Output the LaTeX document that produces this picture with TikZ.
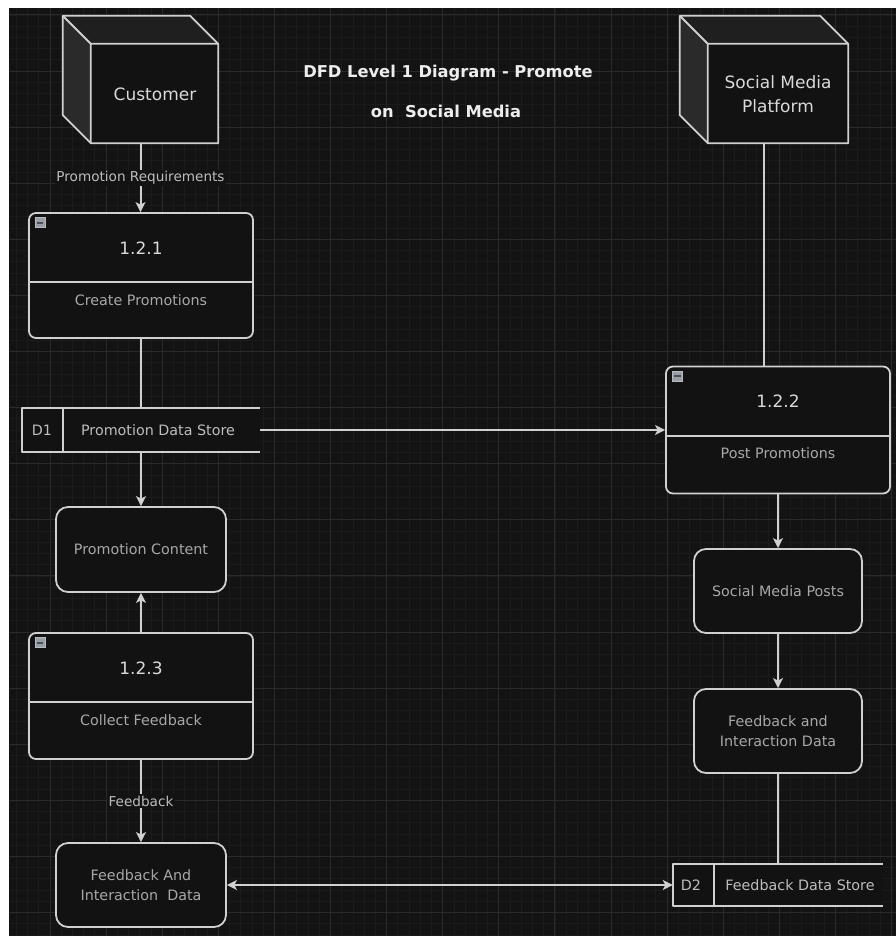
\documentclass[tikz,border=0pt]{standalone}
\usepackage{fontspec}
\setmainfont{DejaVu Sans}
\usetikzlibrary{arrows.meta,calc}

\definecolor{canvas}{HTML}{131313}
\definecolor{gridminor}{HTML}{1B1B1B}
\definecolor{gridmajor}{HTML}{2A2A2A}
\definecolor{edgecol}{HTML}{D0D0D0}
\definecolor{sidefill}{HTML}{2A2A2A}
\definecolor{topfill}{HTML}{1F1F1F}
\definecolor{boxfill}{HTML}{121212}
\definecolor{mainlabel}{HTML}{DADADA}
\definecolor{sublabel}{HTML}{A8A8A8}
\definecolor{flowlabel}{HTML}{BDBDBD}
\definecolor{titlecol}{HTML}{EDEDED}
\definecolor{iconfill}{HTML}{9A9FA7}
\definecolor{iconbar}{HTML}{4C5056}

\tikzset{
  outline/.style={draw=edgecol, line width=1.8bp, line join=round},
  flow/.style={draw=edgecol, line width=2bp},
  tip/.tip={Stealth[length=10bp,width=10bp,inset=2.5bp]},
  arrowed/.style={flow, -tip},
  twoway/.style={flow, tip-tip},
  bigtext/.style={text=mainlabel, font=\fontsize{17bp}{24bp}\selectfont, align=center, inner sep=0},
  smalltext/.style={text=sublabel, font=\fontsize{14.3bp}{20bp}\selectfont, align=center, inner sep=0},
  flowtext/.style={text=flowlabel, fill=canvas, font=\fontsize{13.6bp}{16bp}\selectfont, inner sep=1.5bp},
  titletext/.style={text=titlecol, font=\bfseries\fontsize{16.3bp}{20bp}\selectfont, inner sep=0, anchor=base},
  cubebox/.style={minimum height=127bp, inner sep=0},
  process/.style={outline, fill=boxfill, rounded corners=7bp, minimum width=224bp, inner sep=0},
  entity/.style={outline, fill=boxfill, rounded corners=12bp, inner sep=0,
    text=sublabel, font=\fontsize{14.3bp}{20bp}\selectfont, align=center},
  storebox/.style={minimum height=42bp, inner sep=0},
  collapse/.style={draw=iconfill!70!white, fill=iconfill, line width=0.8bp, minimum size=10bp, inner sep=0},
}

\begin{document}
\begin{tikzpicture}[x=1bp, y=-1bp]
\useasboundingbox (0,0) rectangle (896,936);
\fill[white] (0,0) rectangle (896,936);

% canvas with minor and major grid
\begin{scope}
  \clip (9,8) rectangle (896,936);
  \fill[canvas] (9,8) rectangle (896,936);
  \foreach \j in {-5,...,80} {
    \draw[gridminor, line width=0.8bp] ({50+11.22*\j},8) -- ({50+11.22*\j},936);
    \draw[gridminor, line width=0.8bp] (9,{71+11.22*\j}) -- (896,{71+11.22*\j});
  }
  \foreach \k in {-1,...,16} {
    \draw[gridmajor, line width=0.9bp] ({50+56.1*\k},8) -- ({50+56.1*\k},936);
    \draw[gridmajor, line width=0.9bp] (9,{71+56.1*\k}) -- (896,{71+56.1*\k});
  }
\end{scope}

% title
\node[titletext] (title1) at (448,77) {DFD Level 1 Diagram - Promote};
\node[titletext] (title2) at (446,117) {on\ \ Social Media};

% external entities (cubes)
\node[cubebox, minimum width=155bp] (cust) at (140.5,79.5) {};
\node[cubebox, minimum width=168bp] (soc) at (764,79.5) {};
\foreach \c in {cust,soc} {
  \fill[topfill] (\c.north west) -- ($(\c.north east)+(-28,0)$) -- ($(\c.north east)+(0,28)$) -- ($(\c.north west)+(28,28)$) -- cycle;
  \fill[sidefill] (\c.north west) -- ($(\c.north west)+(28,28)$) -- ($(\c.south west)+(28,0)$) -- ($(\c.south west)+(0,-28)$) -- cycle;
  \fill[boxfill] ($(\c.north west)+(28,28)$) rectangle (\c.south east);
  \draw[outline] (\c.north west) -- ($(\c.north east)+(-28,0)$) -- ($(\c.north east)+(0,28)$) -- (\c.south east) -- ($(\c.south west)+(28,0)$) -- ($(\c.south west)+(0,-28)$) -- cycle;
  \draw[outline] (\c.north west) -- ($(\c.north west)+(28,28)$) -- ($(\c.north east)+(0,28)$)
                 ($(\c.north west)+(28,28)$) -- ($(\c.south west)+(28,0)$);
}
\node[bigtext] (custname) at (155,94) {Customer};
\node[bigtext] (socname) at (778,94) {Social Media\\Platform};

% processes
\node[process, minimum height=125bp] (p121) at (141,275.5) {};
\node[process, minimum height=127bp] (p122) at (778,430) {};
\node[process, minimum height=126bp] (p123) at (141,696) {};
\foreach \p/\num/\pname in {p121/1.2.1/Create Promotions, p122/1.2.2/Post Promotions, p123/1.2.3/Collect Feedback} {
  \draw[outline] ($(\p.north west)+(0,70)$) -- ($(\p.north east)+(0,70)$);
  \node[bigtext] (\p num) at ($(\p.north)+(0,36)$) {\num};
  \node[smalltext] (\p name) at ($(\p.north)+(0,88)$) {\pname};
  \node[collapse] (\p icon) at ($(\p.north west)+(12,10.5)$) {};
  \draw[iconbar, line width=2bp] ($(\p icon.west)+(2,0)$) -- ($(\p icon.east)+(-2,0)$);
}

% data items
\node[entity, minimum width=170bp, minimum height=85bp] (pc) at (141,549.5) {Promotion Content};
\node[entity, minimum width=168bp, minimum height=84bp] (smp) at (778,591) {Social Media Posts};
\node[entity, minimum width=168bp, minimum height=84bp] (fiR) at (778,731) {Feedback and\\Interaction Data};
\node[entity, minimum width=170bp, minimum height=84bp] (fiL) at (141,885) {Feedback And\\Interaction\ \ Data};

% data stores
\node[storebox, minimum width=238bp, minimum height=43bp] (D1) at (141,430) {};
\node[storebox, minimum width=210bp] (D2) at (778,885) {};
\foreach \s in {D1,D2} {
  \fill[boxfill] (\s.north west) rectangle (\s.south east);
  \draw[outline] (\s.north east) -- (\s.north west) -- (\s.south west) -- (\s.south east);
  \draw[outline] ($(\s.north west)+(41,0)$) -- ($(\s.south west)+(41,0)$);
}
\node[smalltext, text=flowlabel] (D1id) at (42,430) {D1};
\node[smalltext, text=flowlabel] (D1name) at (158,430) {Promotion Data Store};
\node[smalltext, text=flowlabel] (D2id) at (691,885) {D2};
\node[smalltext, text=flowlabel] (D2name) at (800,885) {Feedback Data Store};

% data flows
\draw[arrowed] (cust.south) -- node[flowtext] (reqlabel) {Promotion Requirements} (cust.south |- p121.north);
\draw[flow] (p121.south) -- (D1.north);
\draw[arrowed] (D1.east) -- (D1.east -| p122.west);
\draw[arrowed] (D1.south) -- (pc.north);
\draw[arrowed] (p123.north) -- (pc.south);
\draw[arrowed] (p123.south) -- node[flowtext] (fblabel) {Feedback} (p123.south |- fiL.north);
\draw[flow] (soc.south) -- (soc.south |- p122.north);
\draw[arrowed] (p122.south) -- (smp.north);
\draw[arrowed] (smp.south) -- (fiR.north);
\draw[flow] (fiR.south) -- (D2.north);
\draw[twoway] (fiL.east) -- (fiL.east -| D2.west);
\end{tikzpicture}
\end{document}
